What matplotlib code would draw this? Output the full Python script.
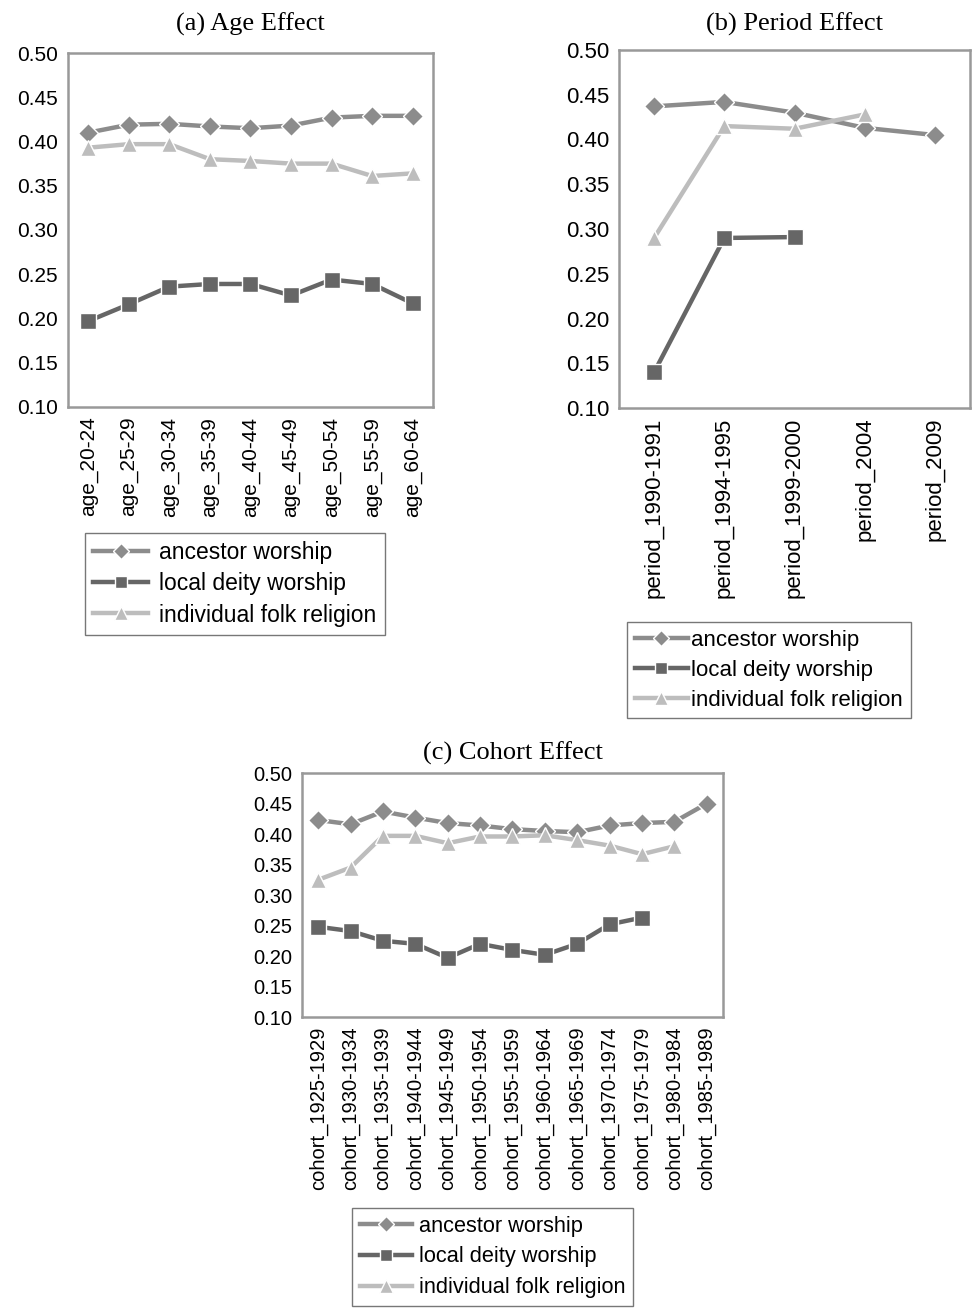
"""
Age, period and cohort effects on folk religion practices
"""

import matplotlib as mpl
mpl.use("Agg")
import matplotlib.pyplot as plt

plt.rcParams["font.family"] = ["Liberation Sans", "DejaVu Sans"]

age_labels = ["age_20-24", "age_25-29", "age_30-34", "age_35-39", "age_40-44",
              "age_45-49", "age_50-54", "age_55-59", "age_60-64"]
age_ancestor = [0.410, 0.419, 0.420, 0.417, 0.415, 0.418, 0.427, 0.429, 0.429]
age_local = [0.197, 0.216, 0.236, 0.239, 0.239, 0.226, 0.244, 0.239, 0.217]
age_folk = [0.393, 0.397, 0.397, 0.380, 0.378, 0.375, 0.375, 0.361, 0.364]

period_labels = ["period_1990-1991", "period_1994-1995", "period_1999-2000",
                 "period_2004", "period_2009"]
period_ancestor = [0.437, 0.442, 0.430, 0.413, 0.405]
period_local = [0.140, 0.290, 0.291]
period_folk = [0.290, 0.415, 0.412, 0.428]

cohort_labels = ["cohort_1925-1929", "cohort_1930-1934", "cohort_1935-1939",
                 "cohort_1940-1944", "cohort_1945-1949", "cohort_1950-1954",
                 "cohort_1955-1959", "cohort_1960-1964", "cohort_1965-1969",
                 "cohort_1970-1974", "cohort_1975-1979", "cohort_1980-1984",
                 "cohort_1985-1989"]
cohort_ancestor = [0.423, 0.416, 0.437, 0.427, 0.418, 0.414, 0.408, 0.405, 0.403,
                   0.414, 0.418, 0.420, 0.450]
cohort_local = [0.248, 0.241, 0.225, 0.220, 0.197, 0.220, 0.210, 0.202, 0.220,
                0.252, 0.263]
cohort_folk = [0.325, 0.345, 0.397, 0.397, 0.385, 0.396, 0.396, 0.398, 0.390,
               0.381, 0.367, 0.380]

series_names = ["ancestor worship", "local deity worship", "individual folk religion"]
series_styles = [
    dict(color="#8c8c8c", marker="D", markersize=10),
    dict(color="#666666", marker="s", markersize=11),
    dict(color="#bdbdbd", marker="^", markersize=12),
]

fig = plt.figure(figsize=(9.75, 13.12), dpi=100)


def panel(rect, title, labels, series, legend_box, textpad, ytick_size, xtick_size,
          leg_size, title_pad, leg_spacing):
    ax = fig.add_axes(rect)
    for name, values, style in zip(series_names, series, series_styles):
        ax.plot(range(len(values)), values, label=name, linewidth=3.2,
                markeredgecolor="white", markeredgewidth=1.0, **style)
    ax.set_xlim(-0.5, len(labels) - 0.5)
    ax.set_ylim(0.10, 0.50)
    ax.set_yticks([0.10 + 0.05 * i for i in range(9)])
    ax.set_yticklabels([f"{0.10 + 0.05 * i:.2f}" for i in range(9)])
    ax.set_xticks(range(len(labels)))
    ax.set_xticklabels(labels, rotation=90)
    ax.tick_params(length=0, pad=7)
    ax.tick_params(axis="y", labelsize=ytick_size)
    ax.tick_params(axis="x", labelsize=xtick_size)
    for sp in ax.spines.values():
        sp.set_color("#999999")
        sp.set_linewidth(1.8)
    ax.set_title(title, family="Liberation Serif", fontsize=19, pad=title_pad)
    leg = ax.legend(loc="upper left", bbox_to_anchor=legend_box,
                    bbox_transform=fig.transFigure, fontsize=leg_size,
                    frameon=True, fancybox=False, edgecolor="#555555",
                    handlelength=2.4, handletextpad=textpad, borderpad=0.35,
                    labelspacing=leg_spacing, borderaxespad=0, markerscale=0.8)
    leg.get_frame().set_linewidth(1.0)
    return ax


panel([0.0697, 0.6898, 0.3744, 0.2698], "(a) Age Effect", age_labels,
      [age_ancestor, age_local, age_folk], (85 / 975, 1 - 533 / 1312), 0.5,
      15, 15, 16.5, 16, 0.36)
panel([0.6349, 0.6890, 0.3600, 0.2729], "(b) Period Effect", period_labels,
      [period_ancestor, period_local, period_folk], (627 / 975, 1 - 622 / 1312), 0.15,
      16, 16, 16, 14, 0.4)
panel([0.3097, 0.2248, 0.4318, 0.1860], "(c) Cohort Effect", cohort_labels,
      [cohort_ancestor, cohort_local, cohort_folk], (352 / 975, 1 - 1208 / 1312), 0.3,
      14.5, 14.5, 15.7, 10, 0.45)

fig.savefig("out.png", dpi=100)
